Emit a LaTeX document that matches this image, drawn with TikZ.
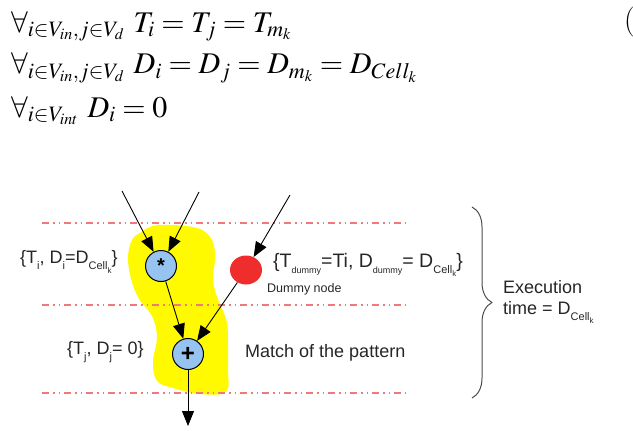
\documentclass[tikz,border=0pt]{standalone}
\usepackage{mathptmx}
\usepackage{fontspec}
\newfontfamily\lsans{Liberation Sans}
\usetikzlibrary{arrows.meta,shapes.geometric,decorations.pathreplacing}
\DeclareMathSizes{30}{30}{22}{16}
\definecolor{opblue}{RGB}{150,195,240}
\definecolor{dummyred}{RGB}{240,45,45}
\definecolor{blobyellow}{RGB}{255,250,0}
\definecolor{stagered}{RGB}{240,120,120}
\newcommand{\lo}[1]{\raisebox{-.6ex}{\fontsize{11}{11}\selectfont #1}}
\newcommand{\lolo}[1]{\raisebox{-.6ex}{\fontsize{8}{8}\selectfont #1}}
\begin{document}
\begin{tikzpicture}[x=1pt,y=-1pt, line join=round, >={Triangle[length=15pt,width=12pt]},
  opnode/.style={circle, draw, line width=1pt, fill=opblue, minimum size=31pt, inner sep=0pt},
  stageline/.style={stagered, line width=1.2pt, dash pattern=on 7pt off 4pt on 1.5pt off 4pt on 1.5pt off 4pt},
  edge/.style={->, line width=0.9pt},
  eqn/.style={anchor=base west, inner sep=0pt, font=\fontsize{30}{34}\selectfont},
  lbl/.style={text=black!85, font=\lsans\fontsize{18}{21}\selectfont, inner sep=0pt}]
\useasboundingbox (0,0) rectangle (633,431);

% constraints
\node[eqn] (eqa) at (11,32) {$\forall_{i\in V_{in},j\in V_d}\ T_i=T_j=T_{m_k}$};
\node[eqn] (eqb) at (11,74) {$\forall_{i\in V_{in},j\in V_d}\ D_i=D_j=D_{m_k}=D_{Cell_k}$};
\node[eqn] (eqc) at (11,117) {$\forall_{i\in V_{int}}\ D_i=0$};
\node[eqn] (eqnum) at (624,30) {(};

% matched pattern
\fill[blobyellow] plot[smooth cycle, tension=0.6] coordinates {(140,233) (158,225) (197,228) (212,240) (215,258) (213,278) (216,294) (221,306) (227,323) (228,343) (228,370) (226,392) (200,394) (173,388) (157,381) (153,362) (157,337) (152,316) (139,299) (131,279) (128,257) (132,240)};

% stage boundaries
\draw[stageline] (42,223) -- (406,223);
\draw[stageline] (42,305) -- (406,305);
\draw[stageline] (42,393) -- (406,393);

% nodes
\node[opnode, font=\lsans\bfseries\fontsize{20}{20}\selectfont] (mul) at (161,266) {*};
\node[opnode, font=\lsans\bfseries\fontsize{24}{24}\selectfont] (add) at (188,354) {+};
\node[ellipse, fill=dummyred, minimum width=32pt, minimum height=29pt, inner sep=0pt] (dummy) at (246,270) {};

\coordinate (in1) at (122,191);
\coordinate (in2) at (199,192);
\coordinate (in3) at (290,195);
\coordinate (out) at (188,426);

\draw[edge] (in1) -- (mul);
\draw[edge] (in2) -- (mul);
\draw[edge] (in3) -- (dummy);
\draw[edge] (mul) -- (add);
\draw[edge] (dummy) -- (add);
\draw[edge] (add) -- (out);

% labels
\node[lbl, anchor=west] (mullbl) at (20,262) {\{T\lo{i}, D\lo{i}=D\lo{Cell\lolo{k}}\}};
\node[lbl, anchor=west] (addlbl) at (67,352) {\{T\lo{j}, D\lo{j}= 0\}};
\node[lbl, anchor=west, font=\lsans\fontsize{19.5}{22}\selectfont] (dummylbl) at (273,265) {\{T\lolo{\fontsize{9}{9}\selectfont dummy}=Ti, D\lolo{\fontsize{9}{9}\selectfont dummy}= D\lo{Cell\lolo{k}}\}};
\node[lbl, font=\lsans\fontsize{12.5}{14}\selectfont, anchor=west] (dummyname) at (267,289) {Dummy node};
\node[lbl, anchor=west] (match) at (245,353) {Match of the pattern};

% execution time
\draw[gray!60!black, line width=1pt, decorate, decoration={brace, amplitude=20pt}] (472,207) -- (472,398);
\node[lbl, anchor=west, align=left] (exec) at (503,302) {Execution\\time = D\lo{Cell\lolo{k}}};
\end{tikzpicture}
\end{document}
